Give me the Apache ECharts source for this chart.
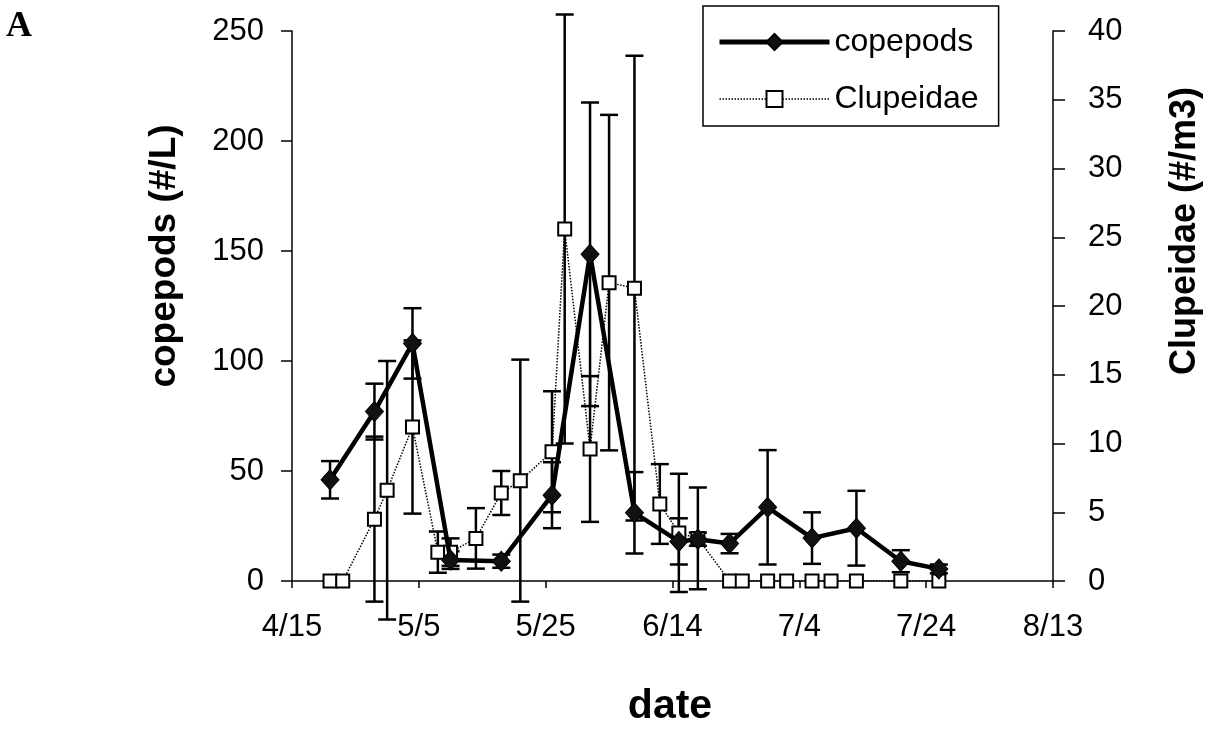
<!DOCTYPE html>
<html><head><meta charset="utf-8">
<script src="https://cdn.jsdelivr.net/npm/echarts@6/dist/echarts.min.js"></script>
<style>html,body{margin:0;padding:0;background:#fff}#c{width:1213px;height:732px}</style>
</head><body><div id="c"></div>
<script>
// ---- data ----
const xTickLabels = ['4/15', '5/5', '5/25', '6/14', '7/4', '7/24', '8/13'];

const copepodDates  = ['4/21', '4/28', '5/4', '5/10', '5/18', '5/26', '6/1', '6/8', '6/15', '6/18', '6/23', '6/29', '7/6', '7/13', '7/20', '7/26'];
const copepodValues = [46, 77, 108, 9.5, 9, 39, 148.5, 31, 18, 19, 17, 33.5, 19.5, 24, 9, 5.5];
const copepodErrors = [8.5, 12.7, 16, 4, 3, 15, 69, 18.5, 10.5, 3, 4.4, 26, 11.7, 17, 5, 2];

const clupeidaeDates  = ['4/21', '4/23', '4/28', '4/30', '5/4', '5/8', '5/10', '5/14', '5/18', '5/21', '5/26', '5/28', '6/1', '6/4', '6/8', '6/12', '6/15', '6/18', '6/23', '6/25', '6/29', '7/2', '7/6', '7/9', '7/13', '7/20', '7/26'];
const clupeidaeValues = [0, 0, 4.5, 6.6, 11.2, 2.1, 2.1, 3.1, 6.4, 7.3, 9.4, 25.6, 9.6, 21.7, 21.3, 5.6, 3.5, 3.1, 0, 0, 0, 0, 0, 0, 0, 0, 0];
const clupeidaeErrors = [0, 0, 6, 9.4, 6.3, 1.5, 1, 2.2, 1.6, 8.8, 4.4, 15.6, 5.3, 12.2, 16.9, 2.9, 4.3, 3.7, 0, 0, 0, 0, 0, 0, 0, 0, 0];

// ---- helpers ----
function dayOf(s) {
  const p = s.split('/').map(Number);
  return Math.round((Date.UTC(2001, p[0] - 1, p[1]) - Date.UTC(2001, 3, 15)) / 86400000);
}
const FONT = "'Liberation Sans', Arial, sans-serif";

const copepodData = copepodDates.map((d, i) => [dayOf(d), copepodValues[i]]);
const clupeidaeData = clupeidaeDates.map((d, i) => [dayOf(d), clupeidaeValues[i]]);
const copepodErr = copepodDates.map((d, i) => [dayOf(d), copepodValues[i] - copepodErrors[i], copepodValues[i] + copepodErrors[i]]);
const clupeidaeErr = clupeidaeDates.map((d, i) => [dayOf(d), clupeidaeValues[i] - clupeidaeErrors[i], clupeidaeValues[i] + clupeidaeErrors[i]])
  .filter((r, i) => clupeidaeErrors[i] > 0);

function errRender(params, api) {
  const x = api.value(0), lo = api.value(1), hi = api.value(2);
  const p1 = api.coord([x, lo]), p2 = api.coord([x, hi]);
  const hw = 9;
  const style = { stroke: '#000', lineWidth: 2.5, fill: null };
  return {
    type: 'group',
    children: [
      { type: 'line', shape: { x1: p1[0], y1: p1[1], x2: p2[0], y2: p2[1] }, style: style },
      { type: 'line', shape: { x1: p1[0] - hw, y1: p1[1], x2: p1[0] + hw, y2: p1[1] }, style: style },
      { type: 'line', shape: { x1: p2[0] - hw, y1: p2[1], x2: p2[0] + hw, y2: p2[1] }, style: style }
    ]
  };
}

const chart = echarts.init(document.getElementById('c'), null, { renderer: 'canvas' });
chart.setOption({
  backgroundColor: '#fff',
  animation: false,
  grid: { left: 292, right: 160, top: 31, bottom: 151, containLabel: false },
  legend: {
    data: [
      { name: 'copepods', lineStyle: { width: 5 } },
      { name: 'Clupeidae', lineStyle: { width: 1.5 } }
    ],
    orient: 'vertical',
    left: 703, top: 6,
    padding: [20, 20, 11, 14],
    itemGap: 25,
    itemWidth: 110, itemHeight: 20, itemTextGap: 8,
    borderColor: '#000', borderWidth: 1.5,
    textStyle: { fontSize: 32, color: '#000', fontFamily: FONT, lineHeight: 30 }
  },
  xAxis: {
    type: 'value', min: 0, max: 120, interval: 20,
    axisLine: { lineStyle: { color: '#000', width: 1.5 } },
    axisTick: { show: true, length: 7, lineStyle: { color: '#000', width: 1.5 } },
    axisLabel: { formatter: v => xTickLabels[Math.round(v / 20)], fontSize: 31, color: '#000', fontFamily: FONT, margin: 31 },
    splitLine: { show: false }
  },
  yAxis: [
    {
      type: 'value', position: 'left', min: 0, max: 250, interval: 50,
      axisLine: { show: true, lineStyle: { color: '#000', width: 1.5 } },
      axisTick: { show: true, length: 11, lineStyle: { color: '#000', width: 1.5 } },
      axisLabel: { fontSize: 31, color: '#000', fontFamily: FONT, margin: 28 },
      splitLine: { show: false }
    },
    {
      type: 'value', position: 'right', min: 0, max: 40, interval: 5,
      axisLine: { show: true, lineStyle: { color: '#000', width: 1.5 } },
      axisTick: { show: true, length: 12, lineStyle: { color: '#000', width: 1.5 } },
      axisLabel: { fontSize: 31, color: '#000', fontFamily: FONT, margin: 35 },
      splitLine: { show: false }
    }
  ],
  graphic: [
    { type: 'text', left: 6, top: 9, style: { text: 'A', font: "bold 36px 'Liberation Serif', 'Times New Roman', serif", fill: '#000' } },
    { type: 'text', x: 165, y: 256, rotation: Math.PI / 2, style: { text: 'copepods (#/L)', fontSize: 37, fontWeight: 'bold', fontFamily: FONT, fill: '#000', align: 'center', verticalAlign: 'middle' } },
    { type: 'text', x: 1185, y: 231, rotation: Math.PI / 2, style: { text: 'Clupeidae (#/m3)', fontSize: 36, fontWeight: 'bold', fontFamily: FONT, fill: '#000', align: 'center', verticalAlign: 'middle' } },
    { type: 'text', x: 670, y: 707, style: { text: 'date', fontSize: 41, fontWeight: 'bold', fontFamily: FONT, fill: '#000', align: 'center', verticalAlign: 'middle' } }
  ],
  series: [
    {
      name: 'copepods err', type: 'custom', yAxisIndex: 0, z: 1, clip: false,
      renderItem: errRender, encode: { x: 0, y: [1, 2] }, data: copepodErr, silent: true
    },
    {
      name: 'Clupeidae err', type: 'custom', yAxisIndex: 1, z: 1, clip: false,
      renderItem: errRender, encode: { x: 0, y: [1, 2] }, data: clupeidaeErr, silent: true
    },
    {
      name: 'Clupeidae', type: 'line', yAxisIndex: 1, z: 3,
      data: clupeidaeData,
      symbol: 'rect', symbolSize: 13,
      itemStyle: { color: '#fff', borderColor: '#000', borderWidth: 2 },
      lineStyle: { color: '#000', width: 1.5, type: 'dotted' }
    },
    {
      name: 'copepods', type: 'line', yAxisIndex: 0, z: 4,
      data: copepodData,
      symbol: 'diamond', symbolSize: [18, 20],
      itemStyle: { color: '#111', borderColor: '#000', borderWidth: 1 },
      lineStyle: { color: '#000', width: 4.5 }
    }
  ]
});
</script>
</body></html>
